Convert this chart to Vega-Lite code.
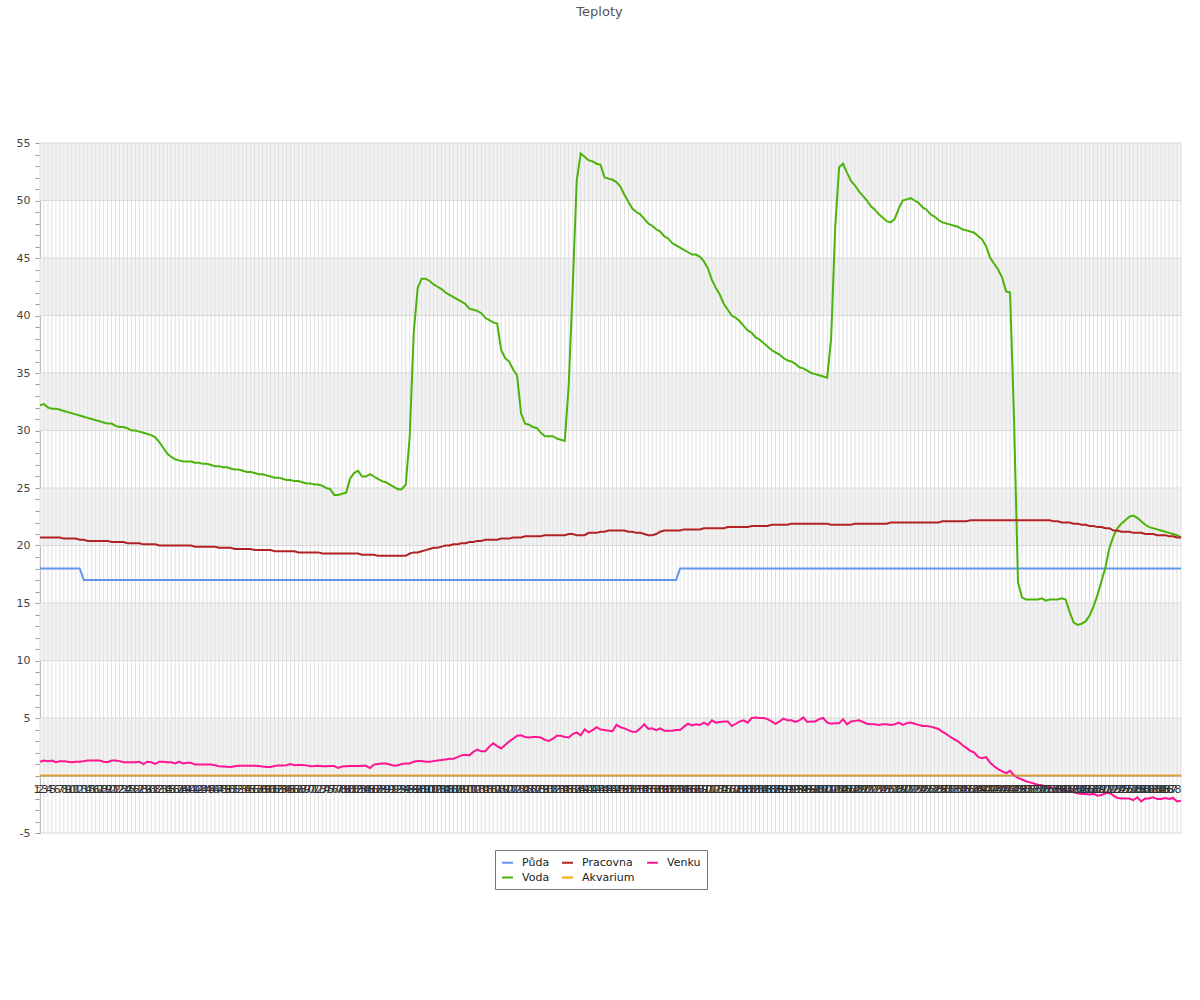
{
"$schema": "https://vega.github.io/schema/vega-lite/v6.json",
"width": 1141, "height": 690,
"autosize": {"type": "none"},
"padding": {"left": 40, "top": 143, "right": 19, "bottom": 167},
"background": "white",
"title": {"text": "Teploty", "fontSize": 13, "font": "DejaVu Sans", "fontWeight": "normal", "color": "#555555", "offset": 118, "dx": -11},
"config": {"view": {"stroke": null}, "font": "DejaVu Sans"},
"datasets": {
"bands": [{"lo":0,"hi":5},{"lo":10,"hi":15},{"lo":20,"hi":25},{"lo":30,"hi":35},{"lo":40,"hi":45},{"lo":50,"hi":55}],
"hgrid": [{"g":-5},{"g":0},{"g":5},{"g":10},{"g":15},{"g":20},{"g":25},{"g":30},{"g":35},{"g":40},{"g":45},{"g":50},{"g":55}],
"t": [
{"i":1,"Půda":18,"Voda":32.2,"Pracovna":20.7,"Akvarium":0,"Venku":1.2},
{"i":2,"Půda":18,"Voda":32.3,"Pracovna":20.7,"Akvarium":0,"Venku":1.3},
{"i":3,"Půda":18,"Voda":32.0,"Pracovna":20.7,"Akvarium":0,"Venku":1.25},
{"i":4,"Půda":18,"Voda":31.9,"Pracovna":20.7,"Akvarium":0,"Venku":1.3},
{"i":5,"Půda":18,"Voda":31.9,"Pracovna":20.7,"Akvarium":0,"Venku":1.15},
{"i":6,"Půda":18,"Voda":31.8,"Pracovna":20.7,"Akvarium":0,"Venku":1.25},
{"i":7,"Půda":18,"Voda":31.7,"Pracovna":20.6,"Akvarium":0,"Venku":1.25},
{"i":8,"Půda":18,"Voda":31.6,"Pracovna":20.6,"Akvarium":0,"Venku":1.2},
{"i":9,"Půda":18,"Voda":31.5,"Pracovna":20.6,"Akvarium":0,"Venku":1.15},
{"i":10,"Půda":18,"Voda":31.4,"Pracovna":20.6,"Akvarium":0,"Venku":1.2},
{"i":11,"Půda":18,"Voda":31.3,"Pracovna":20.5,"Akvarium":0,"Venku":1.2},
{"i":12,"Půda":17,"Voda":31.2,"Pracovna":20.5,"Akvarium":0,"Venku":1.25},
{"i":13,"Půda":17,"Voda":31.1,"Pracovna":20.4,"Akvarium":0,"Venku":1.3},
{"i":14,"Půda":17,"Voda":31.0,"Pracovna":20.4,"Akvarium":0,"Venku":1.3},
{"i":15,"Půda":17,"Voda":30.9,"Pracovna":20.4,"Akvarium":0,"Venku":1.3},
{"i":16,"Půda":17,"Voda":30.8,"Pracovna":20.4,"Akvarium":0,"Venku":1.3},
{"i":17,"Půda":17,"Voda":30.7,"Pracovna":20.4,"Akvarium":0,"Venku":1.2},
{"i":18,"Půda":17,"Voda":30.6,"Pracovna":20.4,"Akvarium":0,"Venku":1.15},
{"i":19,"Půda":17,"Voda":30.6,"Pracovna":20.3,"Akvarium":0,"Venku":1.3},
{"i":20,"Půda":17,"Voda":30.4,"Pracovna":20.3,"Akvarium":0,"Venku":1.3},
{"i":21,"Půda":17,"Voda":30.3,"Pracovna":20.3,"Akvarium":0,"Venku":1.25},
{"i":22,"Půda":17,"Voda":30.3,"Pracovna":20.3,"Akvarium":0,"Venku":1.15},
{"i":23,"Půda":17,"Voda":30.2,"Pracovna":20.2,"Akvarium":0,"Venku":1.15},
{"i":24,"Půda":17,"Voda":30.0,"Pracovna":20.2,"Akvarium":0,"Venku":1.15},
{"i":25,"Půda":17,"Voda":30.0,"Pracovna":20.2,"Akvarium":0,"Venku":1.15},
{"i":26,"Půda":17,"Voda":29.9,"Pracovna":20.2,"Akvarium":0,"Venku":1.2},
{"i":27,"Půda":17,"Voda":29.8,"Pracovna":20.1,"Akvarium":0,"Venku":1.0},
{"i":28,"Půda":17,"Voda":29.7,"Pracovna":20.1,"Akvarium":0,"Venku":1.2},
{"i":29,"Půda":17,"Voda":29.6,"Pracovna":20.1,"Akvarium":0,"Venku":1.15},
{"i":30,"Půda":17,"Voda":29.4,"Pracovna":20.1,"Akvarium":0,"Venku":1.0},
{"i":31,"Půda":17,"Voda":29.0,"Pracovna":20.0,"Akvarium":0,"Venku":1.2},
{"i":32,"Půda":17,"Voda":28.5,"Pracovna":20.0,"Akvarium":0,"Venku":1.2},
{"i":33,"Půda":17,"Voda":28.0,"Pracovna":20.0,"Akvarium":0,"Venku":1.15},
{"i":34,"Půda":17,"Voda":27.7,"Pracovna":20.0,"Akvarium":0,"Venku":1.15},
{"i":35,"Půda":17,"Voda":27.5,"Pracovna":20.0,"Akvarium":0,"Venku":1.05},
{"i":36,"Půda":17,"Voda":27.4,"Pracovna":20.0,"Akvarium":0,"Venku":1.2},
{"i":37,"Půda":17,"Voda":27.3,"Pracovna":20.0,"Akvarium":0,"Venku":1.05},
{"i":38,"Půda":17,"Voda":27.3,"Pracovna":20.0,"Akvarium":0,"Venku":1.1},
{"i":39,"Půda":17,"Voda":27.3,"Pracovna":20.0,"Akvarium":0,"Venku":1.1},
{"i":40,"Půda":17,"Voda":27.2,"Pracovna":19.9,"Akvarium":0,"Venku":0.95},
{"i":41,"Půda":17,"Voda":27.2,"Pracovna":19.9,"Akvarium":0,"Venku":0.95},
{"i":42,"Půda":17,"Voda":27.1,"Pracovna":19.9,"Akvarium":0,"Venku":0.95},
{"i":43,"Půda":17,"Voda":27.1,"Pracovna":19.9,"Akvarium":0,"Venku":0.95},
{"i":44,"Půda":17,"Voda":27.0,"Pracovna":19.9,"Akvarium":0,"Venku":0.95},
{"i":45,"Půda":17,"Voda":26.9,"Pracovna":19.9,"Akvarium":0,"Venku":0.9},
{"i":46,"Půda":17,"Voda":26.9,"Pracovna":19.8,"Akvarium":0,"Venku":0.8},
{"i":47,"Půda":17,"Voda":26.8,"Pracovna":19.8,"Akvarium":0,"Venku":0.78},
{"i":48,"Půda":17,"Voda":26.8,"Pracovna":19.8,"Akvarium":0,"Venku":0.76},
{"i":49,"Půda":17,"Voda":26.7,"Pracovna":19.8,"Akvarium":0,"Venku":0.75},
{"i":50,"Půda":17,"Voda":26.6,"Pracovna":19.7,"Akvarium":0,"Venku":0.8},
{"i":51,"Půda":17,"Voda":26.6,"Pracovna":19.7,"Akvarium":0,"Venku":0.85},
{"i":52,"Půda":17,"Voda":26.5,"Pracovna":19.7,"Akvarium":0,"Venku":0.85},
{"i":53,"Půda":17,"Voda":26.4,"Pracovna":19.7,"Akvarium":0,"Venku":0.85},
{"i":54,"Půda":17,"Voda":26.4,"Pracovna":19.7,"Akvarium":0,"Venku":0.85},
{"i":55,"Půda":17,"Voda":26.3,"Pracovna":19.6,"Akvarium":0,"Venku":0.85},
{"i":56,"Půda":17,"Voda":26.2,"Pracovna":19.6,"Akvarium":0,"Venku":0.82},
{"i":57,"Půda":17,"Voda":26.2,"Pracovna":19.6,"Akvarium":0,"Venku":0.78},
{"i":58,"Půda":17,"Voda":26.1,"Pracovna":19.6,"Akvarium":0,"Venku":0.75},
{"i":59,"Půda":17,"Voda":26.0,"Pracovna":19.6,"Akvarium":0,"Venku":0.75},
{"i":60,"Půda":17,"Voda":25.9,"Pracovna":19.5,"Akvarium":0,"Venku":0.82},
{"i":61,"Půda":17,"Voda":25.9,"Pracovna":19.5,"Akvarium":0,"Venku":0.88},
{"i":62,"Půda":17,"Voda":25.8,"Pracovna":19.5,"Akvarium":0,"Venku":0.86},
{"i":63,"Půda":17,"Voda":25.7,"Pracovna":19.5,"Akvarium":0,"Venku":0.9},
{"i":64,"Půda":17,"Voda":25.7,"Pracovna":19.5,"Akvarium":0,"Venku":0.99},
{"i":65,"Půda":17,"Voda":25.6,"Pracovna":19.5,"Akvarium":0,"Venku":0.9},
{"i":66,"Půda":17,"Voda":25.6,"Pracovna":19.4,"Akvarium":0,"Venku":0.92},
{"i":67,"Půda":17,"Voda":25.5,"Pracovna":19.4,"Akvarium":0,"Venku":0.92},
{"i":68,"Půda":17,"Voda":25.4,"Pracovna":19.4,"Akvarium":0,"Venku":0.88},
{"i":69,"Půda":17,"Voda":25.4,"Pracovna":19.4,"Akvarium":0,"Venku":0.8},
{"i":70,"Půda":17,"Voda":25.3,"Pracovna":19.4,"Akvarium":0,"Venku":0.82},
{"i":71,"Půda":17,"Voda":25.3,"Pracovna":19.4,"Akvarium":0,"Venku":0.85},
{"i":72,"Půda":17,"Voda":25.2,"Pracovna":19.3,"Akvarium":0,"Venku":0.8},
{"i":73,"Půda":17,"Voda":25.0,"Pracovna":19.3,"Akvarium":0,"Venku":0.8},
{"i":74,"Půda":17,"Voda":24.9,"Pracovna":19.3,"Akvarium":0,"Venku":0.82},
{"i":75,"Půda":17,"Voda":24.4,"Pracovna":19.3,"Akvarium":0,"Venku":0.82},
{"i":76,"Půda":17,"Voda":24.4,"Pracovna":19.3,"Akvarium":0,"Venku":0.65},
{"i":77,"Půda":17,"Voda":24.5,"Pracovna":19.3,"Akvarium":0,"Venku":0.78},
{"i":78,"Půda":17,"Voda":24.6,"Pracovna":19.3,"Akvarium":0,"Venku":0.8},
{"i":79,"Půda":17,"Voda":25.8,"Pracovna":19.3,"Akvarium":0,"Venku":0.82},
{"i":80,"Půda":17,"Voda":26.3,"Pracovna":19.3,"Akvarium":0,"Venku":0.82},
{"i":81,"Půda":17,"Voda":26.5,"Pracovna":19.3,"Akvarium":0,"Venku":0.82},
{"i":82,"Půda":17,"Voda":26.0,"Pracovna":19.2,"Akvarium":0,"Venku":0.84},
{"i":83,"Půda":17,"Voda":26.0,"Pracovna":19.2,"Akvarium":0,"Venku":0.84},
{"i":84,"Půda":17,"Voda":26.2,"Pracovna":19.2,"Akvarium":0,"Venku":0.65},
{"i":85,"Půda":17,"Voda":26.0,"Pracovna":19.2,"Akvarium":0,"Venku":0.95},
{"i":86,"Půda":17,"Voda":25.8,"Pracovna":19.1,"Akvarium":0,"Venku":1.0},
{"i":87,"Půda":17,"Voda":25.6,"Pracovna":19.1,"Akvarium":0,"Venku":1.05},
{"i":88,"Půda":17,"Voda":25.5,"Pracovna":19.1,"Akvarium":0,"Venku":1.05},
{"i":89,"Půda":17,"Voda":25.3,"Pracovna":19.1,"Akvarium":0,"Venku":0.95},
{"i":90,"Půda":17,"Voda":25.1,"Pracovna":19.1,"Akvarium":0,"Venku":0.85},
{"i":91,"Půda":17,"Voda":24.9,"Pracovna":19.1,"Akvarium":0,"Venku":0.9},
{"i":92,"Půda":17,"Voda":24.9,"Pracovna":19.1,"Akvarium":0,"Venku":1.0},
{"i":93,"Půda":17,"Voda":25.3,"Pracovna":19.1,"Akvarium":0,"Venku":1.05},
{"i":94,"Půda":17,"Voda":29.5,"Pracovna":19.3,"Akvarium":0,"Venku":1.05},
{"i":95,"Půda":17,"Voda":38.5,"Pracovna":19.4,"Akvarium":0,"Venku":1.2},
{"i":96,"Půda":17,"Voda":42.4,"Pracovna":19.4,"Akvarium":0,"Venku":1.26},
{"i":97,"Půda":17,"Voda":43.2,"Pracovna":19.5,"Akvarium":0,"Venku":1.26},
{"i":98,"Půda":17,"Voda":43.2,"Pracovna":19.6,"Akvarium":0,"Venku":1.2},
{"i":99,"Půda":17,"Voda":43.0,"Pracovna":19.7,"Akvarium":0,"Venku":1.2},
{"i":100,"Půda":17,"Voda":42.7,"Pracovna":19.8,"Akvarium":0,"Venku":1.25},
{"i":101,"Půda":17,"Voda":42.5,"Pracovna":19.8,"Akvarium":0,"Venku":1.3},
{"i":102,"Půda":17,"Voda":42.3,"Pracovna":19.9,"Akvarium":0,"Venku":1.35},
{"i":103,"Půda":17,"Voda":42.0,"Pracovna":20.0,"Akvarium":0,"Venku":1.4},
{"i":104,"Půda":17,"Voda":41.8,"Pracovna":20.0,"Akvarium":0,"Venku":1.45},
{"i":105,"Půda":17,"Voda":41.6,"Pracovna":20.1,"Akvarium":0,"Venku":1.45},
{"i":106,"Půda":17,"Voda":41.4,"Pracovna":20.1,"Akvarium":0,"Venku":1.6},
{"i":107,"Půda":17,"Voda":41.2,"Pracovna":20.2,"Akvarium":0,"Venku":1.75},
{"i":108,"Půda":17,"Voda":41.0,"Pracovna":20.2,"Akvarium":0,"Venku":1.8},
{"i":109,"Půda":17,"Voda":40.6,"Pracovna":20.3,"Akvarium":0,"Venku":1.75},
{"i":110,"Půda":17,"Voda":40.5,"Pracovna":20.3,"Akvarium":0,"Venku":2.05},
{"i":111,"Půda":17,"Voda":40.4,"Pracovna":20.4,"Akvarium":0,"Venku":2.25},
{"i":112,"Půda":17,"Voda":40.2,"Pracovna":20.4,"Akvarium":0,"Venku":2.1},
{"i":113,"Půda":17,"Voda":39.8,"Pracovna":20.5,"Akvarium":0,"Venku":2.1},
{"i":114,"Půda":17,"Voda":39.6,"Pracovna":20.5,"Akvarium":0,"Venku":2.5},
{"i":115,"Půda":17,"Voda":39.4,"Pracovna":20.5,"Akvarium":0,"Venku":2.8},
{"i":116,"Půda":17,"Voda":39.3,"Pracovna":20.5,"Akvarium":0,"Venku":2.55},
{"i":117,"Půda":17,"Voda":37.0,"Pracovna":20.6,"Akvarium":0,"Venku":2.35},
{"i":118,"Půda":17,"Voda":36.3,"Pracovna":20.6,"Akvarium":0,"Venku":2.65},
{"i":119,"Půda":17,"Voda":36.0,"Pracovna":20.6,"Akvarium":0,"Venku":2.95},
{"i":120,"Půda":17,"Voda":35.3,"Pracovna":20.7,"Akvarium":0,"Venku":3.2},
{"i":121,"Půda":17,"Voda":34.8,"Pracovna":20.7,"Akvarium":0,"Venku":3.45},
{"i":122,"Půda":17,"Voda":31.5,"Pracovna":20.7,"Akvarium":0,"Venku":3.5},
{"i":123,"Půda":17,"Voda":30.6,"Pracovna":20.8,"Akvarium":0,"Venku":3.35},
{"i":124,"Půda":17,"Voda":30.5,"Pracovna":20.8,"Akvarium":0,"Venku":3.3},
{"i":125,"Půda":17,"Voda":30.3,"Pracovna":20.8,"Akvarium":0,"Venku":3.35},
{"i":126,"Půda":17,"Voda":30.2,"Pracovna":20.8,"Akvarium":0,"Venku":3.35},
{"i":127,"Půda":17,"Voda":29.8,"Pracovna":20.8,"Akvarium":0,"Venku":3.3},
{"i":128,"Půda":17,"Voda":29.5,"Pracovna":20.9,"Akvarium":0,"Venku":3.1},
{"i":129,"Půda":17,"Voda":29.5,"Pracovna":20.9,"Akvarium":0,"Venku":3.0},
{"i":130,"Půda":17,"Voda":29.5,"Pracovna":20.9,"Akvarium":0,"Venku":3.2},
{"i":131,"Půda":17,"Voda":29.3,"Pracovna":20.9,"Akvarium":0,"Venku":3.45},
{"i":132,"Půda":17,"Voda":29.2,"Pracovna":20.9,"Akvarium":0,"Venku":3.45},
{"i":133,"Půda":17,"Voda":29.1,"Pracovna":20.9,"Akvarium":0,"Venku":3.35},
{"i":134,"Půda":17,"Voda":34.0,"Pracovna":21.0,"Akvarium":0,"Venku":3.3},
{"i":135,"Půda":17,"Voda":42.5,"Pracovna":21.0,"Akvarium":0,"Venku":3.6},
{"i":136,"Půda":17,"Voda":51.7,"Pracovna":20.9,"Akvarium":0,"Venku":3.75},
{"i":137,"Půda":17,"Voda":54.1,"Pracovna":20.9,"Akvarium":0,"Venku":3.5},
{"i":138,"Půda":17,"Voda":53.8,"Pracovna":20.9,"Akvarium":0,"Venku":4.0},
{"i":139,"Půda":17,"Voda":53.5,"Pracovna":21.1,"Akvarium":0,"Venku":3.75},
{"i":140,"Půda":17,"Voda":53.4,"Pracovna":21.1,"Akvarium":0,"Venku":3.95},
{"i":141,"Půda":17,"Voda":53.2,"Pracovna":21.1,"Akvarium":0,"Venku":4.2},
{"i":142,"Půda":17,"Voda":53.1,"Pracovna":21.2,"Akvarium":0,"Venku":4.0},
{"i":143,"Půda":17,"Voda":52.0,"Pracovna":21.2,"Akvarium":0,"Venku":3.95},
{"i":144,"Půda":17,"Voda":51.9,"Pracovna":21.3,"Akvarium":0,"Venku":3.9},
{"i":145,"Půda":17,"Voda":51.8,"Pracovna":21.3,"Akvarium":0,"Venku":3.85},
{"i":146,"Půda":17,"Voda":51.6,"Pracovna":21.3,"Akvarium":0,"Venku":4.4},
{"i":147,"Půda":17,"Voda":51.2,"Pracovna":21.3,"Akvarium":0,"Venku":4.2},
{"i":148,"Půda":17,"Voda":50.5,"Pracovna":21.3,"Akvarium":0,"Venku":4.1},
{"i":149,"Půda":17,"Voda":49.9,"Pracovna":21.2,"Akvarium":0,"Venku":3.95},
{"i":150,"Půda":17,"Voda":49.3,"Pracovna":21.2,"Akvarium":0,"Venku":3.8},
{"i":151,"Půda":17,"Voda":49.0,"Pracovna":21.1,"Akvarium":0,"Venku":3.8},
{"i":152,"Půda":17,"Voda":48.8,"Pracovna":21.1,"Akvarium":0,"Venku":4.1},
{"i":153,"Půda":17,"Voda":48.4,"Pracovna":21.0,"Akvarium":0,"Venku":4.45},
{"i":154,"Půda":17,"Voda":48.0,"Pracovna":20.9,"Akvarium":0,"Venku":4.05},
{"i":155,"Půda":17,"Voda":47.8,"Pracovna":20.9,"Akvarium":0,"Venku":4.1},
{"i":156,"Půda":17,"Voda":47.5,"Pracovna":21.0,"Akvarium":0,"Venku":3.95},
{"i":157,"Půda":17,"Voda":47.3,"Pracovna":21.2,"Akvarium":0,"Venku":4.1},
{"i":158,"Půda":17,"Voda":46.9,"Pracovna":21.3,"Akvarium":0,"Venku":3.9},
{"i":159,"Půda":17,"Voda":46.7,"Pracovna":21.3,"Akvarium":0,"Venku":3.9},
{"i":160,"Půda":17,"Voda":46.3,"Pracovna":21.3,"Akvarium":0,"Venku":3.9},
{"i":161,"Půda":17,"Voda":46.1,"Pracovna":21.3,"Akvarium":0,"Venku":3.95},
{"i":162,"Půda":18,"Voda":45.9,"Pracovna":21.3,"Akvarium":0,"Venku":3.95},
{"i":163,"Půda":18,"Voda":45.7,"Pracovna":21.4,"Akvarium":0,"Venku":4.25},
{"i":164,"Půda":18,"Voda":45.5,"Pracovna":21.4,"Akvarium":0,"Venku":4.5},
{"i":165,"Půda":18,"Voda":45.3,"Pracovna":21.4,"Akvarium":0,"Venku":4.35},
{"i":166,"Půda":18,"Voda":45.3,"Pracovna":21.4,"Akvarium":0,"Venku":4.45},
{"i":167,"Půda":18,"Voda":45.1,"Pracovna":21.4,"Akvarium":0,"Venku":4.4},
{"i":168,"Půda":18,"Voda":44.7,"Pracovna":21.5,"Akvarium":0,"Venku":4.6},
{"i":169,"Půda":18,"Voda":44.1,"Pracovna":21.5,"Akvarium":0,"Venku":4.4},
{"i":170,"Půda":18,"Voda":43.1,"Pracovna":21.5,"Akvarium":0,"Venku":4.8},
{"i":171,"Půda":18,"Voda":42.4,"Pracovna":21.5,"Akvarium":0,"Venku":4.6},
{"i":172,"Půda":18,"Voda":41.8,"Pracovna":21.5,"Akvarium":0,"Venku":4.65},
{"i":173,"Půda":18,"Voda":41.0,"Pracovna":21.5,"Akvarium":0,"Venku":4.7},
{"i":174,"Půda":18,"Voda":40.5,"Pracovna":21.6,"Akvarium":0,"Venku":4.7},
{"i":175,"Půda":18,"Voda":40.0,"Pracovna":21.6,"Akvarium":0,"Venku":4.3},
{"i":176,"Půda":18,"Voda":39.8,"Pracovna":21.6,"Akvarium":0,"Venku":4.5},
{"i":177,"Půda":18,"Voda":39.5,"Pracovna":21.6,"Akvarium":0,"Venku":4.7},
{"i":178,"Půda":18,"Voda":39.1,"Pracovna":21.6,"Akvarium":0,"Venku":4.8},
{"i":179,"Půda":18,"Voda":38.7,"Pracovna":21.6,"Akvarium":0,"Venku":4.6},
{"i":180,"Půda":18,"Voda":38.5,"Pracovna":21.7,"Akvarium":0,"Venku":5.0},
{"i":181,"Půda":18,"Voda":38.1,"Pracovna":21.7,"Akvarium":0,"Venku":5.05},
{"i":182,"Půda":18,"Voda":37.9,"Pracovna":21.7,"Akvarium":0,"Venku":5.0},
{"i":183,"Půda":18,"Voda":37.6,"Pracovna":21.7,"Akvarium":0,"Venku":5.0},
{"i":184,"Půda":18,"Voda":37.3,"Pracovna":21.7,"Akvarium":0,"Venku":4.9},
{"i":185,"Půda":18,"Voda":37.0,"Pracovna":21.8,"Akvarium":0,"Venku":4.7},
{"i":186,"Půda":18,"Voda":36.8,"Pracovna":21.8,"Akvarium":0,"Venku":4.5},
{"i":187,"Půda":18,"Voda":36.6,"Pracovna":21.8,"Akvarium":0,"Venku":4.7},
{"i":188,"Půda":18,"Voda":36.3,"Pracovna":21.8,"Akvarium":0,"Venku":4.95},
{"i":189,"Půda":18,"Voda":36.1,"Pracovna":21.8,"Akvarium":0,"Venku":4.8},
{"i":190,"Půda":18,"Voda":36.0,"Pracovna":21.9,"Akvarium":0,"Venku":4.8},
{"i":191,"Půda":18,"Voda":35.8,"Pracovna":21.9,"Akvarium":0,"Venku":4.65},
{"i":192,"Půda":18,"Voda":35.5,"Pracovna":21.9,"Akvarium":0,"Venku":4.8},
{"i":193,"Půda":18,"Voda":35.4,"Pracovna":21.9,"Akvarium":0,"Venku":5.05},
{"i":194,"Půda":18,"Voda":35.2,"Pracovna":21.9,"Akvarium":0,"Venku":4.65},
{"i":195,"Půda":18,"Voda":35.0,"Pracovna":21.9,"Akvarium":0,"Venku":4.7},
{"i":196,"Půda":18,"Voda":34.9,"Pracovna":21.9,"Akvarium":0,"Venku":4.7},
{"i":197,"Půda":18,"Voda":34.8,"Pracovna":21.9,"Akvarium":0,"Venku":4.9},
{"i":198,"Půda":18,"Voda":34.7,"Pracovna":21.9,"Akvarium":0,"Venku":5.0},
{"i":199,"Půda":18,"Voda":34.6,"Pracovna":21.9,"Akvarium":0,"Venku":4.6},
{"i":200,"Půda":18,"Voda":38.0,"Pracovna":21.8,"Akvarium":0,"Venku":4.5},
{"i":201,"Půda":18,"Voda":47.5,"Pracovna":21.8,"Akvarium":0,"Venku":4.55},
{"i":202,"Půda":18,"Voda":52.9,"Pracovna":21.8,"Akvarium":0,"Venku":4.55},
{"i":203,"Půda":18,"Voda":53.2,"Pracovna":21.8,"Akvarium":0,"Venku":4.9},
{"i":204,"Půda":18,"Voda":52.4,"Pracovna":21.8,"Akvarium":0,"Venku":4.45},
{"i":205,"Půda":18,"Voda":51.7,"Pracovna":21.8,"Akvarium":0,"Venku":4.7},
{"i":206,"Půda":18,"Voda":51.3,"Pracovna":21.9,"Akvarium":0,"Venku":4.75},
{"i":207,"Půda":18,"Voda":50.8,"Pracovna":21.9,"Akvarium":0,"Venku":4.8},
{"i":208,"Půda":18,"Voda":50.4,"Pracovna":21.9,"Akvarium":0,"Venku":4.65},
{"i":209,"Půda":18,"Voda":50.0,"Pracovna":21.9,"Akvarium":0,"Venku":4.5},
{"i":210,"Půda":18,"Voda":49.5,"Pracovna":21.9,"Akvarium":0,"Venku":4.45},
{"i":211,"Půda":18,"Voda":49.2,"Pracovna":21.9,"Akvarium":0,"Venku":4.45},
{"i":212,"Půda":18,"Voda":48.8,"Pracovna":21.9,"Akvarium":0,"Venku":4.4},
{"i":213,"Půda":18,"Voda":48.5,"Pracovna":21.9,"Akvarium":0,"Venku":4.45},
{"i":214,"Půda":18,"Voda":48.2,"Pracovna":21.9,"Akvarium":0,"Venku":4.45},
{"i":215,"Půda":18,"Voda":48.1,"Pracovna":22.0,"Akvarium":0,"Venku":4.4},
{"i":216,"Půda":18,"Voda":48.4,"Pracovna":22.0,"Akvarium":0,"Venku":4.45},
{"i":217,"Půda":18,"Voda":49.3,"Pracovna":22.0,"Akvarium":0,"Venku":4.6},
{"i":218,"Půda":18,"Voda":50.0,"Pracovna":22.0,"Akvarium":0,"Venku":4.4},
{"i":219,"Půda":18,"Voda":50.1,"Pracovna":22.0,"Akvarium":0,"Venku":4.55},
{"i":220,"Půda":18,"Voda":50.2,"Pracovna":22.0,"Akvarium":0,"Venku":4.6},
{"i":221,"Půda":18,"Voda":50.0,"Pracovna":22.0,"Akvarium":0,"Venku":4.5},
{"i":222,"Půda":18,"Voda":49.8,"Pracovna":22.0,"Akvarium":0,"Venku":4.4},
{"i":223,"Půda":18,"Voda":49.4,"Pracovna":22.0,"Akvarium":0,"Venku":4.3},
{"i":224,"Půda":18,"Voda":49.2,"Pracovna":22.0,"Akvarium":0,"Venku":4.3},
{"i":225,"Půda":18,"Voda":48.8,"Pracovna":22.0,"Akvarium":0,"Venku":4.25},
{"i":226,"Půda":18,"Voda":48.6,"Pracovna":22.0,"Akvarium":0,"Venku":4.15},
{"i":227,"Půda":18,"Voda":48.3,"Pracovna":22.0,"Akvarium":0,"Venku":4.05},
{"i":228,"Půda":18,"Voda":48.1,"Pracovna":22.1,"Akvarium":0,"Venku":3.8},
{"i":229,"Půda":18,"Voda":48.0,"Pracovna":22.1,"Akvarium":0,"Venku":3.6},
{"i":230,"Půda":18,"Voda":47.9,"Pracovna":22.1,"Akvarium":0,"Venku":3.35},
{"i":231,"Půda":18,"Voda":47.8,"Pracovna":22.1,"Akvarium":0,"Venku":3.15},
{"i":232,"Půda":18,"Voda":47.7,"Pracovna":22.1,"Akvarium":0,"Venku":2.95},
{"i":233,"Půda":18,"Voda":47.5,"Pracovna":22.1,"Akvarium":0,"Venku":2.65},
{"i":234,"Půda":18,"Voda":47.4,"Pracovna":22.1,"Akvarium":0,"Venku":2.4},
{"i":235,"Půda":18,"Voda":47.3,"Pracovna":22.2,"Akvarium":0,"Venku":2.15},
{"i":236,"Půda":18,"Voda":47.2,"Pracovna":22.2,"Akvarium":0,"Venku":2.0},
{"i":237,"Půda":18,"Voda":46.9,"Pracovna":22.2,"Akvarium":0,"Venku":1.6},
{"i":238,"Půda":18,"Voda":46.6,"Pracovna":22.2,"Akvarium":0,"Venku":1.5},
{"i":239,"Půda":18,"Voda":46.0,"Pracovna":22.2,"Akvarium":0,"Venku":1.6},
{"i":240,"Půda":18,"Voda":45.0,"Pracovna":22.2,"Akvarium":0,"Venku":1.1},
{"i":241,"Půda":18,"Voda":44.5,"Pracovna":22.2,"Akvarium":0,"Venku":0.8},
{"i":242,"Půda":18,"Voda":44.0,"Pracovna":22.2,"Akvarium":0,"Venku":0.55},
{"i":243,"Půda":18,"Voda":43.3,"Pracovna":22.2,"Akvarium":0,"Venku":0.35},
{"i":244,"Půda":18,"Voda":42.1,"Pracovna":22.2,"Akvarium":0,"Venku":0.2},
{"i":245,"Půda":18,"Voda":42.0,"Pracovna":22.2,"Akvarium":0,"Venku":0.4},
{"i":246,"Půda":18,"Voda":31.0,"Pracovna":22.2,"Akvarium":0,"Venku":0.0},
{"i":247,"Půda":18,"Voda":16.8,"Pracovna":22.2,"Akvarium":0,"Venku":-0.2},
{"i":248,"Půda":18,"Voda":15.5,"Pracovna":22.2,"Akvarium":0,"Venku":-0.35},
{"i":249,"Půda":18,"Voda":15.3,"Pracovna":22.2,"Akvarium":0,"Venku":-0.5},
{"i":250,"Půda":18,"Voda":15.3,"Pracovna":22.2,"Akvarium":0,"Venku":-0.6},
{"i":251,"Půda":18,"Voda":15.3,"Pracovna":22.2,"Akvarium":0,"Venku":-0.7},
{"i":252,"Půda":18,"Voda":15.3,"Pracovna":22.2,"Akvarium":0,"Venku":-0.8},
{"i":253,"Půda":18,"Voda":15.4,"Pracovna":22.2,"Akvarium":0,"Venku":-0.85},
{"i":254,"Půda":18,"Voda":15.2,"Pracovna":22.2,"Akvarium":0,"Venku":-0.95},
{"i":255,"Půda":18,"Voda":15.3,"Pracovna":22.2,"Akvarium":0,"Venku":-1.0},
{"i":256,"Půda":18,"Voda":15.3,"Pracovna":22.1,"Akvarium":0,"Venku":-1.1},
{"i":257,"Půda":18,"Voda":15.3,"Pracovna":22.1,"Akvarium":0,"Venku":-1.15},
{"i":258,"Půda":18,"Voda":15.4,"Pracovna":22.0,"Akvarium":0,"Venku":-1.25},
{"i":259,"Půda":18,"Voda":15.3,"Pracovna":22.0,"Akvarium":0,"Venku":-1.3},
{"i":260,"Půda":18,"Voda":14.2,"Pracovna":22.0,"Akvarium":0,"Venku":-1.4},
{"i":261,"Půda":18,"Voda":13.3,"Pracovna":21.9,"Akvarium":0,"Venku":-1.45},
{"i":262,"Půda":18,"Voda":13.1,"Pracovna":21.9,"Akvarium":0,"Venku":-1.55},
{"i":263,"Půda":18,"Voda":13.2,"Pracovna":21.8,"Akvarium":0,"Venku":-1.6},
{"i":264,"Půda":18,"Voda":13.4,"Pracovna":21.8,"Akvarium":0,"Venku":-1.6},
{"i":265,"Půda":18,"Voda":13.9,"Pracovna":21.7,"Akvarium":0,"Venku":-1.65},
{"i":266,"Půda":18,"Voda":14.7,"Pracovna":21.7,"Akvarium":0,"Venku":-1.6},
{"i":267,"Půda":18,"Voda":15.7,"Pracovna":21.6,"Akvarium":0,"Venku":-1.75},
{"i":268,"Půda":18,"Voda":16.9,"Pracovna":21.6,"Akvarium":0,"Venku":-1.7},
{"i":269,"Půda":18,"Voda":18.1,"Pracovna":21.5,"Akvarium":0,"Venku":-1.55},
{"i":270,"Půda":18,"Voda":19.8,"Pracovna":21.5,"Akvarium":0,"Venku":-1.5},
{"i":271,"Půda":18,"Voda":20.8,"Pracovna":21.3,"Akvarium":0,"Venku":-1.75},
{"i":272,"Půda":18,"Voda":21.5,"Pracovna":21.3,"Akvarium":0,"Venku":-1.95},
{"i":273,"Půda":18,"Voda":21.9,"Pracovna":21.2,"Akvarium":0,"Venku":-2.0},
{"i":274,"Půda":18,"Voda":22.2,"Pracovna":21.2,"Akvarium":0,"Venku":-2.0},
{"i":275,"Půda":18,"Voda":22.5,"Pracovna":21.2,"Akvarium":0,"Venku":-2.0},
{"i":276,"Půda":18,"Voda":22.6,"Pracovna":21.1,"Akvarium":0,"Venku":-2.15},
{"i":277,"Půda":18,"Voda":22.4,"Pracovna":21.1,"Akvarium":0,"Venku":-1.9},
{"i":278,"Půda":18,"Voda":22.1,"Pracovna":21.1,"Akvarium":0,"Venku":-2.25},
{"i":279,"Půda":18,"Voda":21.8,"Pracovna":21.0,"Akvarium":0,"Venku":-2.0},
{"i":280,"Půda":18,"Voda":21.6,"Pracovna":21.0,"Akvarium":0,"Venku":-2.0},
{"i":281,"Půda":18,"Voda":21.5,"Pracovna":21.0,"Akvarium":0,"Venku":-1.9},
{"i":282,"Půda":18,"Voda":21.4,"Pracovna":20.9,"Akvarium":0,"Venku":-2.05},
{"i":283,"Půda":18,"Voda":21.3,"Pracovna":20.9,"Akvarium":0,"Venku":-2.05},
{"i":284,"Půda":18,"Voda":21.2,"Pracovna":20.9,"Akvarium":0,"Venku":-1.95},
{"i":285,"Půda":18,"Voda":21.1,"Pracovna":20.8,"Akvarium":0,"Venku":-2.05},
{"i":286,"Půda":18,"Voda":21.0,"Pracovna":20.8,"Akvarium":0,"Venku":-1.95},
{"i":287,"Půda":18,"Voda":20.9,"Pracovna":20.7,"Akvarium":0,"Venku":-2.25},
{"i":288,"Půda":18,"Voda":20.7,"Pracovna":20.7,"Akvarium":0,"Venku":-2.2}
]
},
"layer": [
{"data": {"name": "bands"}, "mark": {"type": "rect", "color": "#f2f2f2"},
 "encoding": {"y": {"field": "lo", "type": "quantitative", "scale": {"domain": [-5, 55], "nice": false, "zero": false}}, "y2": {"field": "hi"}}},
{"data": {"name": "t"}, "mark": {"type": "rule", "color": "#e0e0e0", "strokeWidth": 1},
 "encoding": {"x": {"field": "i", "type": "ordinal", "scale": {"type": "point", "padding": 0}}}},
{"data": {"name": "hgrid"}, "mark": {"type": "rule", "color": "#dadada", "strokeWidth": 1},
 "encoding": {"y": {"field": "g", "type": "quantitative"}}},
{"data": {"name": "t"},
 "transform": [{"fold": ["Půda", "Voda", "Pracovna", "Akvarium", "Venku"], "as": ["serie", "teplota"]}],
 "mark": {"type": "line", "strokeWidth": 2},
 "encoding": {
  "x": {"field": "i", "type": "ordinal", "scale": {"type": "point", "padding": 0},
        "axis": {"title": null, "grid": false, "offset": -57.5, "labelAngle": 0, "labelOverlap": false, "labelFlush": false, "ticks": false, "domainColor": "#999999", "labelColor": "#333333", "labelFontSize": 11, "labelFont": "DejaVu Sans", "labelPadding": 14, "zindex": 1}},
  "y": {"field": "teplota", "type": "quantitative",
        "axis": {"title": null, "grid": false, "tickCount": 61, "values": [-5,-4,-3,-2,-1,0,1,2,3,4,5,6,7,8,9,10,11,12,13,14,15,16,17,18,19,20,21,22,23,24,25,26,27,28,29,30,31,32,33,34,35,36,37,38,39,40,41,42,43,44,45,46,47,48,49,50,51,52,53,54,55],
                 "labelExpr": "datum.value % 5 === 0 && datum.value !== 0 ? '' + datum.value : ''", "labelOverlap": false, "labelFlush": false, "domainColor": "#999999", "tickColor": "#999999", "tickSize": 5, "labelPadding": 5, "labelColor": "#444444", "labelFontSize": 11, "labelFont": "DejaVu Sans"}},
  "color": {"field": "serie", "type": "nominal",
            "scale": {"domain": ["Půda", "Voda", "Pracovna", "Akvarium", "Venku"], "range": ["#6495ed", "#4cb30c", "#b22222", "#ffa500", "#ff1493"]},
            "legend": {"title": null, "orient": "none", "legendX": 455, "legendY": 707, "columns": 3, "strokeColor": "#777777", "fillColor": "white", "padding": 6, "symbolType": "stroke", "symbolStrokeWidth": 2, "symbolSize": 120, "labelFontSize": 11, "labelFont": "DejaVu Sans", "labelColor": "#222222", "columnPadding": 8, "rowPadding": 3, "labelOffset": 8}}
 }}
]
}
